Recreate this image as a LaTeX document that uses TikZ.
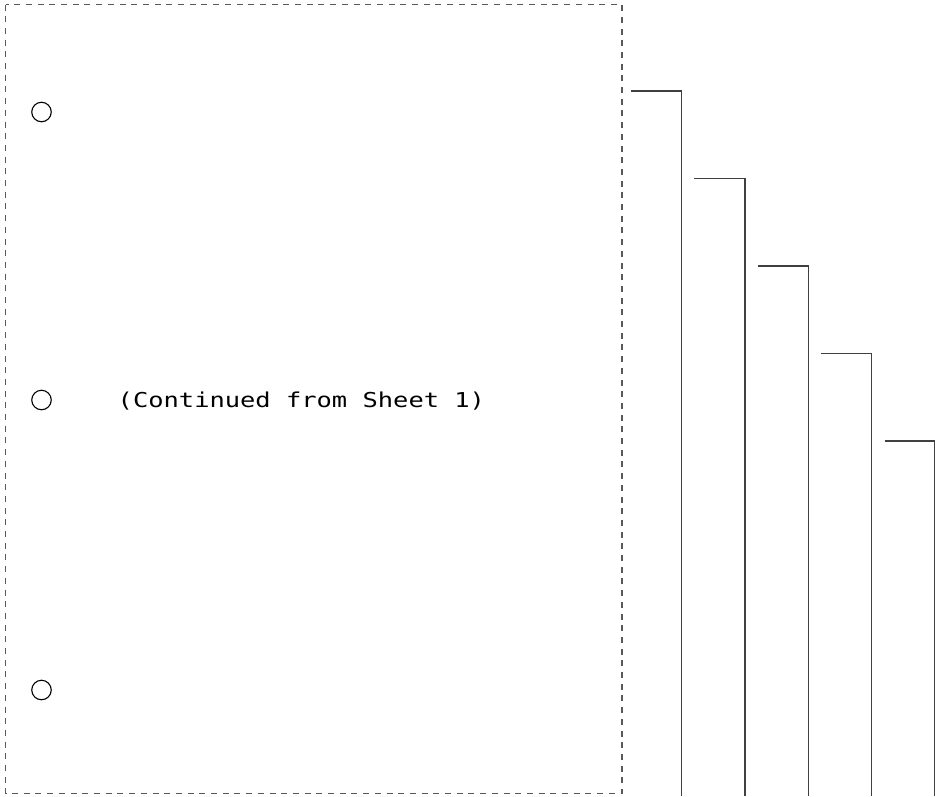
\documentclass[tikz,border=0pt]{standalone}
\usepackage{fontspec}
\newfontfamily\monofont{DejaVu Sans Mono}
\begin{document}
\begin{tikzpicture}[x=1pt,y=-1pt,
  sheet/.style={draw=black!65,line width=1.2pt,dash pattern=on 6pt off 5.7pt},
  tabline/.style={draw=black!75,line width=1.3pt},
  hole/.style={circle,draw=black,line width=1.1pt,minimum size=19.5pt,inner sep=0pt},
  lbl/.style={font=\monofont\fontsize{20.5}{24}\selectfont,text=black,inner sep=0pt,anchor=base west,xscale=1.24,transform shape}]
\useasboundingbox (0,0) rectangle (935,796);
\draw[sheet] (5.5,4.5) rectangle (622,793.5);
\node[hole] (h1) at (41.5,112) {};
\node[hole] (h2) at (41.5,400) {};
\node[hole] (h3) at (41.5,690) {};
\node[lbl] (t) at (117.5,407) {(Continued from Sheet 1)};
\draw[tabline] (631,91) -- (681.5,91) -- (681.5,796);
\draw[tabline] (694,178.5) -- (745,178.5) -- (745,796);
\draw[tabline] (758,266) -- (808.5,266) -- (808.5,796);
\draw[tabline] (821,353.5) -- (871.5,353.5) -- (871.5,796);
\draw[tabline] (884.5,441) -- (934.3,441) -- (934.3,796);
\end{tikzpicture}
\end{document}
